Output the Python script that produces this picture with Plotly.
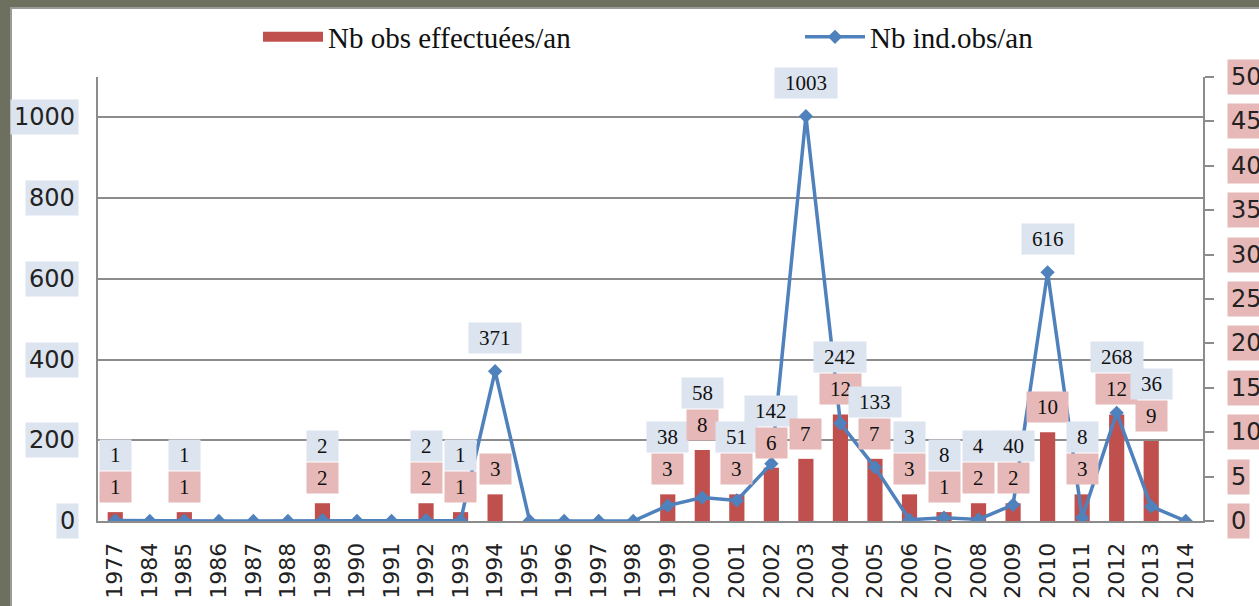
import plotly.graph_objects as go

# data
years = ["1977", "1984", "1985", "1986", "1987", "1988", "1989", "1990",
         "1991", "1992", "1993", "1994", "1995", "1996", "1997", "1998",
         "1999", "2000", "2001", "2002", "2003", "2004", "2005", "2006",
         "2007", "2008", "2009", "2010", "2011", "2012", "2013", "2014"]
nb_obs = [1, 0, 1, 0, 0, 0, 2, 0, 0, 2, 1, 3, 0, 0, 0, 0,
          3, 8, 3, 6, 7, 12, 7, 3, 1, 2, 2, 10, 3, 12, 9, 0]
nb_ind = [1, 0, 1, 0, 0, 0, 2, 0, 0, 2, 1, 371, 0, 0, 0, 0,
          38, 58, 51, 142, 1003, 242, 133, 3, 8, 4, 40, 616, 8, 268, 36, 0]
left_ticks = [0, 200, 400, 600, 800, 1000]
right_ticks = [0, 5, 10, 15, 20, 25, 30, 35, 40, 45, 50]

W, H = 1259, 606
L, R, T, B = 98, 56, 77, 85
PW, PH = W - L - R, H - T - B
Y_IND = 1100
Y_OBS = 50

RED = "#c0504d"
BLUE = "#4f81bd"
PINK = "#e6b9b8"
LBLUE = "#dce4ef"
GRID = "#8c8c8c"
OLIVE = "#6d705f"
SERIF = "Liberation Serif"
SANS = "DejaVu Sans"

fig = go.Figure()

fig.add_trace(go.Bar(
    x=years, y=nb_obs,
    name="Nb obs effectuées/an",
    marker=dict(color=RED, line=dict(width=0)),
    showlegend=False,
    yaxis="y"))

fig.add_trace(go.Scatter(
    x=years, y=nb_ind,
    name="Nb ind.obs/an",
    mode="lines+markers",
    line=dict(color=BLUE, width=3.5),
    marker=dict(symbol="diamond", size=11, color=BLUE),
    legend="legend2",
    yaxis="y2"))

# legend entry for the bars (wide red swatch like the original)
fig.add_trace(go.Scatter(
    x=[None], y=[None], mode="lines",
    name="Nb obs effectuées/an",
    line=dict(color=RED, width=16),
    legend="legend", yaxis="y"))

ann = []


def label(i, y, yref, text, bg, yshift):
    ann.append(dict(
        x=i, y=y, xref="x", yref=yref, text=text, showarrow=False,
        font=dict(family=SERIF, size=21, color="#111111"),
        bgcolor=bg, borderpad=3, width=10.5 * len(text) + 14,
        yshift=yshift, yanchor="middle"))


ratio = Y_IND / Y_OBS
for i, (b, v) in enumerate(zip(nb_obs, nb_ind)):
    if b:
        label(i, b, "y", str(b), PINK, 25)
    if v:
        label(i, max(v, b * ratio + 60), "y2", str(v), LBLUE, 33)

# axis tick labels with coloured boxes
for t in left_ticks:
    ann.append(dict(
        x=0, y=t, xref="paper", yref="y2", text=str(t), showarrow=False,
        xanchor="right", xshift=-19, font=dict(family=SANS, size=24, color="#222"),
        bgcolor=LBLUE, borderpad=3))
for t in right_ticks:
    ann.append(dict(
        x=1, y=t, xref="paper", yref="y", text=str(t), showarrow=False,
        xanchor="left", xshift=24, font=dict(family=SANS, size=24, color="#222"),
        bgcolor=PINK, borderpad=3))

leg = dict(orientation="h", xanchor="left", yanchor="middle",
           y=1 + (T - 37) / PH, itemwidth=60,
           font=dict(family=SERIF, size=29, color="#111"),
           bgcolor="rgba(0,0,0,0)")

fig.update_layout(
    width=W, height=H,
    margin=dict(l=L, r=R, t=T, b=B, autoexpand=False),
    paper_bgcolor=OLIVE,
    plot_bgcolor="rgba(0,0,0,0)",
    bargap=0.56,
    legend=dict(leg, x=(258 - L) / PW),
    legend2=dict(leg, x=(800 - L) / PW),
    xaxis=dict(
        type="category", tickangle=-90, range=[-0.5, len(years) - 0.5],
        tickfont=dict(family=SANS, size=22, color="#222"),
        ticklabelstandoff=11,
        showline=True, linecolor=GRID, linewidth=2,
        ticks="", showgrid=False),
    yaxis=dict(
        range=[0, Y_OBS], side="right", showgrid=False, zeroline=False,
        showticklabels=False, ticks="outside", tickvals=right_ticks,
        ticklen=9, tickcolor=GRID, tickwidth=1.5,
        showline=True, linecolor=GRID, linewidth=2),
    yaxis2=dict(
        range=[0, Y_IND], overlaying="y", side="left",
        tickvals=left_ticks, showticklabels=False,
        showgrid=True, gridcolor=GRID, gridwidth=1.5, zeroline=False,
        showline=True, linecolor=GRID, linewidth=2),
    annotations=ann,
    shapes=[dict(
        type="rect", xref="paper", yref="paper", layer="below",
        x0=(11 - L) / PW, x1=(W + 5 - L) / PW,
        y0=-(B + 5) / PH, y1=1 + (T - 8) / PH,
        fillcolor="white", line=dict(color="#9a9a9a", width=2))],
)

fig.write_html(
    "out.html",
    config={"displayModeBar": False},
    post_script="document.body.style.margin='0';"
                "document.body.style.background='" + OLIVE + "';")
